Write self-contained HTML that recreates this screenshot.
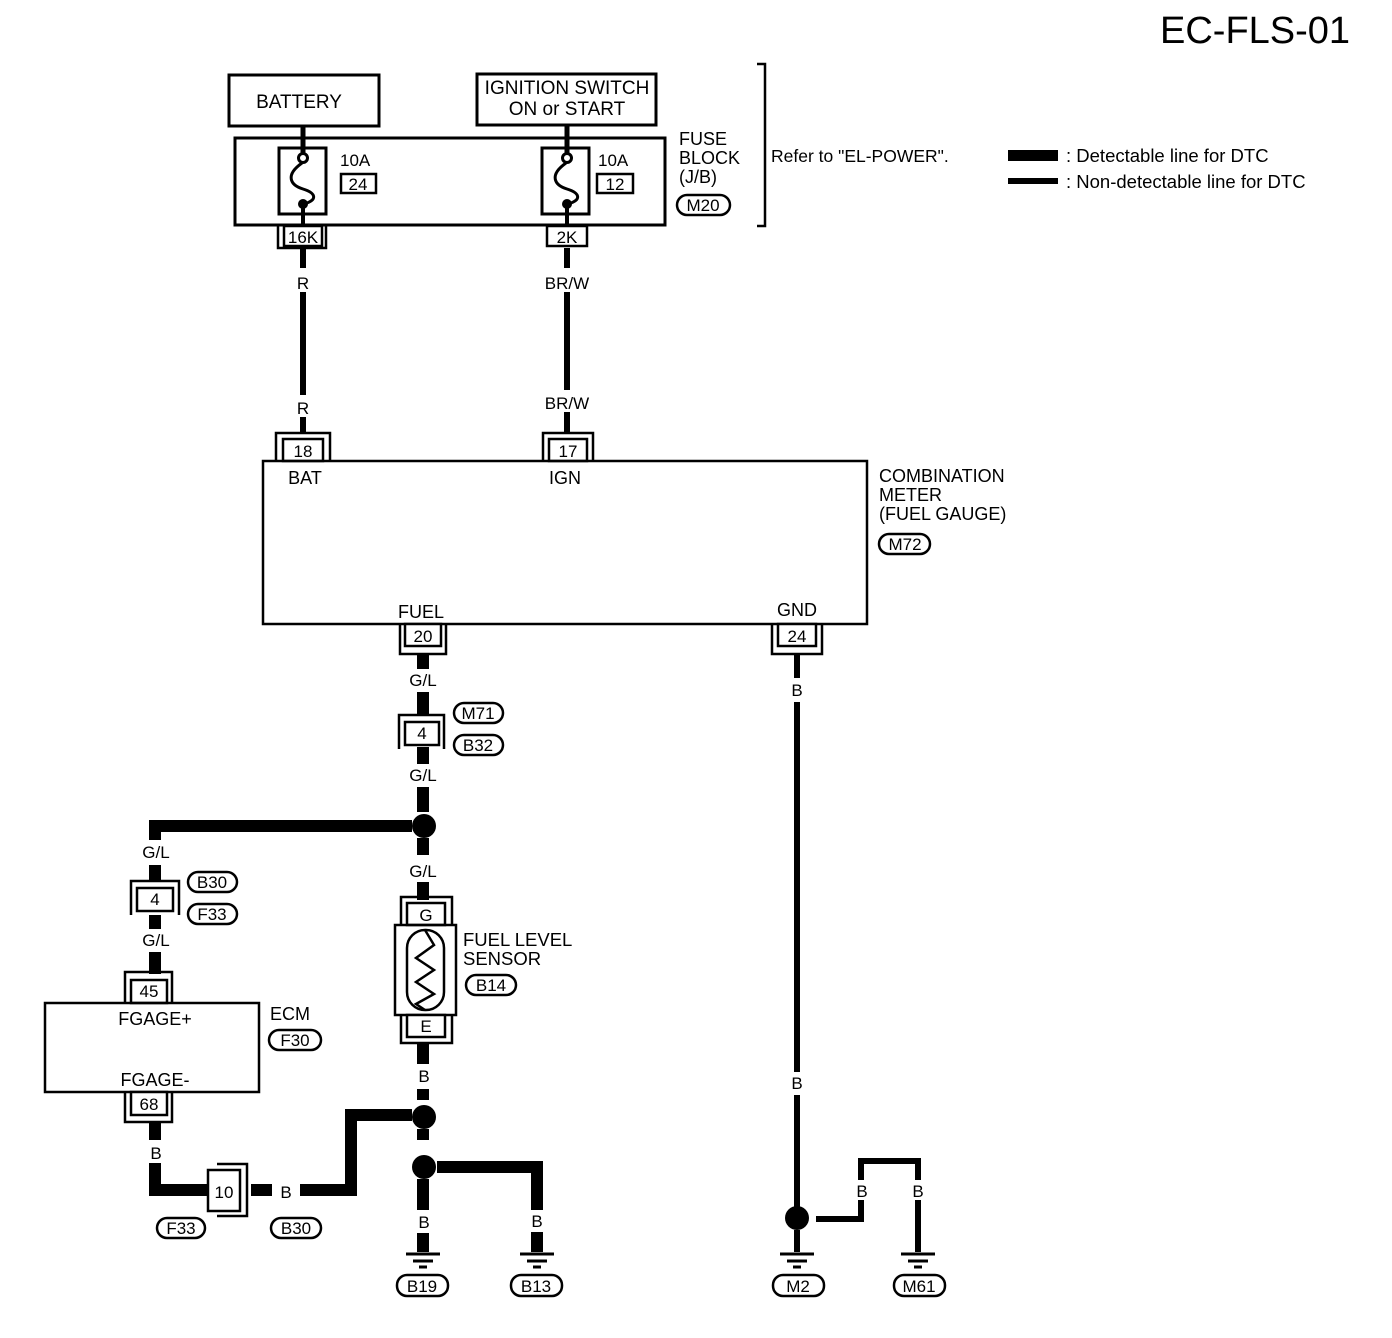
<!DOCTYPE html>
<html><head><meta charset="utf-8"><style>
html,body{margin:0;padding:0;background:#fff}
svg{display:block}
text{font-family:"Liberation Sans",Arial,sans-serif;fill:#000}
</style></head><body>
<svg width="1392" height="1338" viewBox="0 0 1392 1338" xmlns="http://www.w3.org/2000/svg">
<text x="1160" y="43" font-size="38">EC-FLS-01</text>

<g fill="none" stroke="#000" stroke-width="3">
<rect x="229" y="75" width="150" height="51"/>
<rect x="477" y="74" width="179" height="51"/>
<rect x="235" y="138" width="430" height="87"/>
<rect x="279" y="148" width="47" height="66"/>
<rect x="542" y="148" width="47" height="66"/>
<rect x="341" y="174" width="35" height="19" stroke-width="2.5"/>
<rect x="597" y="174" width="36" height="19" stroke-width="2.5"/>
<path d="M757 64 h8 v162 h-8" stroke-width="2.5"/>
</g>
<text x="299" y="108" font-size="19" text-anchor="middle">BATTERY</text>
<text x="567" y="94" font-size="19" text-anchor="middle">IGNITION SWITCH</text>
<text x="567" y="115" font-size="19" text-anchor="middle">ON or START</text>
<text x="340" y="166" font-size="17">10A</text>
<text x="358" y="190" font-size="17" text-anchor="middle">24</text>
<text x="598" y="166" font-size="17">10A</text>
<text x="615" y="190" font-size="17" text-anchor="middle">12</text>
<text x="679" y="145" font-size="18">FUSE</text>
<text x="679" y="164" font-size="18">BLOCK</text>
<text x="679" y="183" font-size="18">(J/B)</text>
<rect x="677" y="195" width="53" height="20" rx="10" fill="none" stroke="#000" stroke-width="2.5"/>
<text x="703" y="211" font-size="17" text-anchor="middle">M20</text>
<text x="771" y="162" font-size="17.5">Refer to "EL-POWER".</text>
<rect x="1008" y="150" width="50" height="11" fill="#000"/>
<rect x="1008" y="178" width="50" height="6" fill="#000"/>
<text x="1066" y="162" font-size="18.5">: Detectable line for DTC</text>
<text x="1066" y="188" font-size="18.5">: Non-detectable line for DTC</text>

<g stroke="#000" fill="none" stroke-width="3">
<line x1="303" y1="126" x2="303" y2="153" stroke-width="5"/>
<line x1="567" y1="125" x2="567" y2="153" stroke-width="5"/>
<circle cx="303" cy="158" r="4.5" fill="#fff"/>
<circle cx="567" cy="158" r="4.5" fill="#fff"/>
<path d="M302 163 C285 175,290 185,303 189 C316 193,318 200,304 204" />
<path d="M566 163 C549 175,554 185,567 189 C580 193,582 200,568 204" />
<line x1="303" y1="205" x2="303" y2="226" stroke-width="4"/>
<line x1="567" y1="205" x2="567" y2="226" stroke-width="4"/>
</g>
<circle cx="303" cy="204" r="5"/>
<circle cx="567" cy="204" r="5"/>

<g fill="#fff" stroke="#000" stroke-width="2.5">
<rect x="284" y="226" width="38" height="20"/>
<rect x="547" y="226" width="40" height="20"/>
<path d="M278 226 v22 h48 v-22" fill="none"/>
</g>
<text x="303" y="243" font-size="17" text-anchor="middle">16K</text>
<text x="567" y="243" font-size="17" text-anchor="middle">2K</text>

<g stroke="#000" stroke-width="6">
<line x1="303" y1="248" x2="303" y2="268"/>
<line x1="303" y1="292" x2="303" y2="395"/>
<line x1="303" y1="417" x2="303" y2="434"/>
<line x1="567" y1="248" x2="567" y2="268"/>
<line x1="567" y1="292" x2="567" y2="390"/>
<line x1="567" y1="412" x2="567" y2="434"/>
</g>
<text x="303" y="289" font-size="17" text-anchor="middle">R</text>
<text x="303" y="414" font-size="17" text-anchor="middle">R</text>
<text x="567" y="289" font-size="17" text-anchor="middle">BR/W</text>
<text x="567" y="409" font-size="17" text-anchor="middle">BR/W</text>

<g fill="#fff" stroke="#000" stroke-width="2.5">
<path d="M276 461 v-28 h54 v28" fill="none"/>
<rect x="283" y="439" width="40" height="22"/>
<path d="M543 461 v-28 h50 v28" fill="none"/>
<rect x="549" y="439" width="38" height="22"/>
<rect x="263" y="461" width="604" height="163" fill="none"/>
<path d="M400 624 v30 h46 v-30" fill="none"/>
<rect x="405" y="624" width="36" height="22"/>
<path d="M772 624 v30 h50 v-30" fill="none"/>
<rect x="778" y="624" width="38" height="22"/>
</g>
<text x="303" y="457" font-size="17" text-anchor="middle">18</text>
<text x="568" y="457" font-size="17" text-anchor="middle">17</text>
<text x="305" y="484" font-size="18" text-anchor="middle">BAT</text>
<text x="565" y="484" font-size="18" text-anchor="middle">IGN</text>
<text x="421" y="618" font-size="18" text-anchor="middle">FUEL</text>
<text x="797" y="616" font-size="18" text-anchor="middle">GND</text>
<text x="423" y="642" font-size="17" text-anchor="middle">20</text>
<text x="797" y="642" font-size="17" text-anchor="middle">24</text>
<text x="879" y="482" font-size="18">COMBINATION</text>
<text x="879" y="501" font-size="18">METER</text>
<text x="879" y="520" font-size="18">(FUEL GAUGE)</text>
<rect x="879" y="534" width="51" height="20" rx="10" fill="none" stroke="#000" stroke-width="2.5"/>
<text x="905" y="550" font-size="17" text-anchor="middle">M72</text>

<g stroke="#000" stroke-width="12" fill="none">
<line x1="423" y1="655" x2="423" y2="669"/>
<line x1="423" y1="692" x2="423" y2="716"/>
<line x1="423" y1="747" x2="423" y2="764"/>
<line x1="423" y1="787" x2="423" y2="812"/>
<line x1="423" y1="838" x2="423" y2="855"/>
<line x1="423" y1="882" x2="423" y2="900"/>
<path d="M412 826 H155 V840"/>
<line x1="155" y1="865" x2="155" y2="882"/>
<line x1="155" y1="915" x2="155" y2="929"/>
<line x1="155" y1="952" x2="155" y2="974"/>
</g>
<circle cx="424" cy="826" r="12"/>
<text x="423" y="686" font-size="17" text-anchor="middle">G/L</text>
<text x="423" y="781" font-size="17" text-anchor="middle">G/L</text>
<text x="423" y="877" font-size="17" text-anchor="middle">G/L</text>
<text x="156" y="858" font-size="17" text-anchor="middle">G/L</text>
<text x="156" y="946" font-size="17" text-anchor="middle">G/L</text>

<g fill="#fff" stroke="#000" stroke-width="2.5">
<path d="M399 749 v-34 h45 v34" fill="none"/>
<rect x="405" y="722" width="34" height="23"/>
<path d="M131 915 v-34 h48 v34" fill="none"/>
<rect x="137" y="888" width="36" height="23"/>
</g>
<text x="422" y="739" font-size="17" text-anchor="middle">4</text>
<text x="155" y="905" font-size="17" text-anchor="middle">4</text>
<g fill="none" stroke="#000" stroke-width="2.5">
<rect x="454" y="703" width="49" height="20" rx="10"/>
<rect x="454" y="735" width="49" height="20" rx="10"/>
<rect x="188" y="872" width="49" height="20" rx="10"/>
<rect x="188" y="904" width="49" height="20" rx="10"/>
<rect x="269" y="1030" width="52" height="20" rx="10"/>
<rect x="466" y="975" width="50" height="20" rx="10"/>
<rect x="157" y="1218" width="48" height="20" rx="10"/>
<rect x="271" y="1218" width="50" height="20" rx="10"/>
<rect x="397" y="1275" width="51" height="21" rx="10"/>
<rect x="511" y="1275" width="51" height="21" rx="10"/>
<rect x="773" y="1275" width="51" height="21" rx="10"/>
<rect x="894" y="1275" width="51" height="21" rx="10"/>
</g>
<g font-size="17" text-anchor="middle">
<text x="478" y="719">M71</text>
<text x="478" y="751">B32</text>
<text x="212" y="888">B30</text>
<text x="212" y="920">F33</text>
<text x="295" y="1046">F30</text>
<text x="491" y="991">B14</text>
<text x="181" y="1234">F33</text>
<text x="296" y="1234">B30</text>
<text x="422" y="1292">B19</text>
<text x="536" y="1292">B13</text>
<text x="798" y="1292">M2</text>
<text x="919" y="1292">M61</text>
</g>

<g fill="#fff" stroke="#000" stroke-width="2.5">
<path d="M125 1003 v-31 h47 v31" fill="none"/>
<rect x="131" y="980" width="36" height="23"/>
<rect x="45" y="1003" width="214" height="89" fill="none"/>
<path d="M125 1092 v30 h47 v-30" fill="none"/>
<rect x="131" y="1092" width="36" height="23"/>
</g>
<text x="149" y="997" font-size="17" text-anchor="middle">45</text>
<text x="149" y="1110" font-size="17" text-anchor="middle">68</text>
<text x="155" y="1025" font-size="18" text-anchor="middle">FGAGE+</text>
<text x="155" y="1086" font-size="18" text-anchor="middle">FGAGE-</text>
<text x="270" y="1020" font-size="18">ECM</text>

<g fill="#fff" stroke="#000" stroke-width="2.5">
<path d="M401 925 v-28 h51 v28" fill="none"/>
<rect x="407" y="903" width="38" height="22"/>
<rect x="395" y="925" width="61" height="90" fill="none"/>
<rect x="407" y="930" width="37" height="80" rx="18" fill="none"/>
<path d="M401 1015 v28 h51 v-28" fill="none"/>
<rect x="407" y="1015" width="38" height="22"/>
<path d="M425 930 L434 945 L416 958 L434 970 L416 982 L434 994 L416 1004 L425 1010" fill="none"/>
</g>
<text x="426" y="921" font-size="17" text-anchor="middle">G</text>
<text x="426" y="1032" font-size="17" text-anchor="middle">E</text>
<text x="463" y="946" font-size="18.5">FUEL LEVEL</text>
<text x="463" y="965" font-size="18.5">SENSOR</text>

<g stroke="#000" stroke-width="12" fill="none">
<line x1="423" y1="1043" x2="423" y2="1064"/>
<line x1="423" y1="1089" x2="423" y2="1100"/>
<line x1="423" y1="1129" x2="423" y2="1140"/>
<line x1="423" y1="1179" x2="423" y2="1210"/>
<line x1="423" y1="1233" x2="423" y2="1252"/>
<path d="M437 1167 H537 V1210"/>
<line x1="537" y1="1232" x2="537" y2="1252"/>
<path d="M412 1115 H351 V1190 H300"/>
<line x1="251" y1="1190" x2="272" y2="1190"/>
<line x1="155" y1="1122" x2="155" y2="1140"/>
<path d="M155 1163 V1190 H207"/>
</g>
<circle cx="424" cy="1117" r="12"/>
<circle cx="424" cy="1167" r="12"/>
<text x="424" y="1082" font-size="17" text-anchor="middle">B</text>
<text x="424" y="1228" font-size="17" text-anchor="middle">B</text>
<text x="537" y="1227" font-size="17" text-anchor="middle">B</text>
<text x="156" y="1159" font-size="17" text-anchor="middle">B</text>
<text x="286" y="1198" font-size="17" text-anchor="middle">B</text>
<g fill="#fff" stroke="#000" stroke-width="2.5">
<path d="M217 1164 h30 v52 h-30" fill="none"/>
<rect x="208" y="1170" width="32" height="41"/>
</g>
<text x="224" y="1198" font-size="17" text-anchor="middle">10</text>

<g stroke="#000" stroke-width="6" fill="none">
<line x1="797" y1="655" x2="797" y2="678"/>
<line x1="797" y1="702" x2="797" y2="1072"/>
<line x1="797" y1="1095" x2="797" y2="1207"/>
<line x1="797" y1="1230" x2="797" y2="1252"/>
<path d="M816 1219 H861 V1200"/>
<path d="M861 1180 V1161 H918 V1180"/>
<line x1="918" y1="1200" x2="918" y2="1252"/>
</g>
<circle cx="797" cy="1218" r="12"/>
<text x="797" y="696" font-size="17" text-anchor="middle">B</text>
<text x="797" y="1089" font-size="17" text-anchor="middle">B</text>
<text x="862" y="1197" font-size="17" text-anchor="middle">B</text>
<text x="918" y="1197" font-size="17" text-anchor="middle">B</text>

<g stroke="#000" stroke-width="3">
<line x1="406" y1="1254" x2="440" y2="1254"/><line x1="413" y1="1261" x2="433" y2="1261"/><line x1="419" y1="1267" x2="427" y2="1267"/>
<line x1="520" y1="1254" x2="554" y2="1254"/><line x1="527" y1="1261" x2="547" y2="1261"/><line x1="533" y1="1267" x2="541" y2="1267"/>
<line x1="780" y1="1254" x2="814" y2="1254"/><line x1="787" y1="1261" x2="807" y2="1261"/><line x1="793" y1="1267" x2="801" y2="1267"/>
<line x1="901" y1="1254" x2="935" y2="1254"/><line x1="908" y1="1261" x2="928" y2="1261"/><line x1="914" y1="1267" x2="922" y2="1267"/>
</g>
</svg>
</body></html>
